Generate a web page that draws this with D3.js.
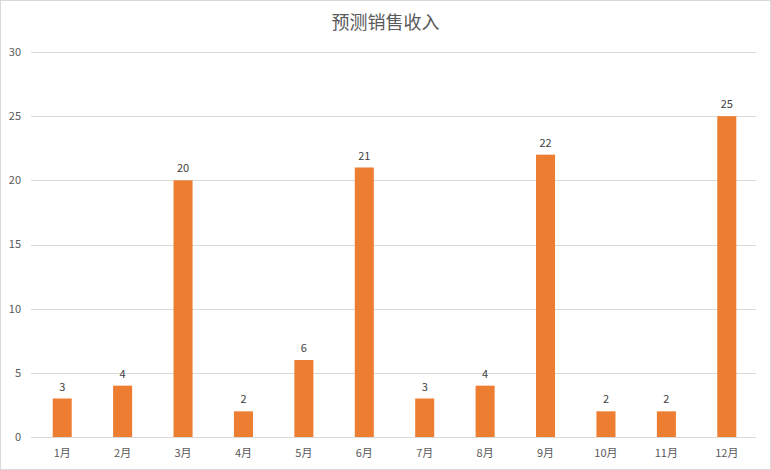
<!DOCTYPE html>
<html>
<head>
<meta charset="utf-8">
<script src="https://cdn.jsdelivr.net/npm/d3@7"></script>
<style>
  body { margin: 0; background: #fff; }
  text { font-family: "Noto Sans CJK SC", "Open Sans", sans-serif; }
</style>
</head>
<body>
<div id="chart"></div>
<script>
// chart data
const months = ["1月", "2月", "3月", "4月", "5月", "6月", "7月", "8月", "9月", "10月", "11月", "12月"];
const sales = [3, 4, 20, 2, 6, 21, 3, 4, 22, 2, 2, 25];
const yTicks = [0, 5, 10, 15, 20, 25, 30];

const width = 771;
const height = 470;
const margin = { top: 52, right: 14, bottom: 33, left: 32 };

const svg = d3.select("#chart")
    .append("svg")
    .attr("width", width)
    .attr("height", height);

// outer border
svg.append("rect")
    .attr("x", 0.5)
    .attr("y", 0.5)
    .attr("width", width - 1)
    .attr("height", height - 1)
    .attr("fill", "#fff")
    .attr("stroke", "#d9d9d9");

const x = d3.scaleBand()
    .domain(months)
    .range([margin.left, width - margin.right])
    .paddingInner(0.685)
    .paddingOuter(0.3425);

const y = d3.scaleLinear()
    .domain([0, 30])
    .range([height - margin.bottom, margin.top]);

// gridlines
svg.append("g")
    .selectAll("line")
    .data(yTicks)
    .enter().append("line")
    .attr("x1", margin.left - 1)
    .attr("x2", width - margin.right - 1)
    .attr("y1", d => Math.round(y(d)) + 0.5)
    .attr("y2", d => Math.round(y(d)) + 0.5)
    .attr("stroke", "#d9d9d9");

// y tick labels
svg.append("g")
    .selectAll("text")
    .data(yTicks)
    .enter().append("text")
    .attr("x", 21)
    .attr("y", d => y(d))
    .attr("dy", "0.35em")
    .attr("text-anchor", "end")
    .style("font-size", "11px")
    .style("fill", "#595959")
    .text(d => d);

// bars
svg.append("g")
    .selectAll("rect")
    .data(sales)
    .enter().append("rect")
    .attr("x", (d, i) => x(months[i]))
    .attr("y", d => y(d))
    .attr("width", x.bandwidth())
    .attr("height", d => y(0) - y(d))
    .attr("fill", "#ed7d31");

// value labels
svg.append("g")
    .selectAll("text")
    .data(sales)
    .enter().append("text")
    .attr("x", (d, i) => x(months[i]) + x.bandwidth() / 2)
    .attr("y", d => y(d) - 8)
    .attr("text-anchor", "middle")
    .style("font-size", "11px")
    .style("fill", "#404040")
    .text(d => d);

// x labels
svg.append("g")
    .selectAll("text")
    .data(months)
    .enter().append("text")
    .attr("x", d => x(d) + x.bandwidth() / 2)
    .attr("y", 453)
    .attr("dy", "0.35em")
    .attr("text-anchor", "middle")
    .style("font-size", "11px")
    .style("fill", "#595959")
    .text(d => d);

// title
svg.append("text")
    .attr("x", width / 2)
    .attr("y", 23)
    .attr("dy", "0.35em")
    .attr("text-anchor", "middle")
    .style("font-size", "18px")
    .style("fill", "#595959")
    .text("预测销售收入");
</script>
</body>
</html>
